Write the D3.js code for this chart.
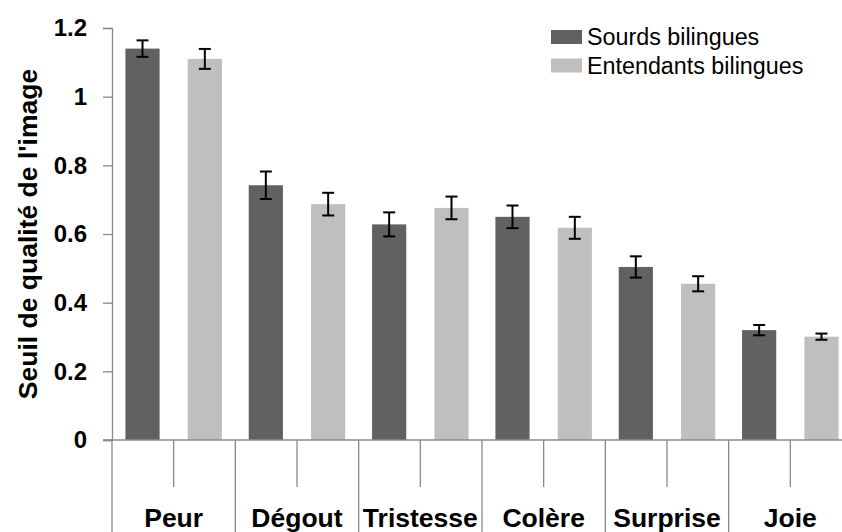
<!DOCTYPE html>
<html>
<head>
<meta charset="utf-8">
<script src="https://cdn.jsdelivr.net/npm/d3@7"></script>
<style>
  html, body { margin: 0; padding: 0; background: #fff; }
  svg { display: block; font-family: "Liberation Sans", Arial, sans-serif; }
</style>
</head>
<body>
<svg id="chart" width="842" height="532"></svg>
<script>
// Emotion categories and the two groups
const categories = ["Peur", "Dégout", "Tristesse", "Colère", "Surprise", "Joie"];
const seriesNames = ["Sourds bilingues", "Entendants bilingues"];
const seriesColors = ["#616161", "#bfbfbf"];

// Mean threshold per category, one array per group
const sourdsValues = [1.14, 0.742, 0.628, 0.650, 0.504, 0.320];
const entendantsValues = [1.110, 0.687, 0.676, 0.618, 0.455, 0.301];

// Error bar half-widths
const sourdsErrors = [0.024, 0.040, 0.035, 0.033, 0.031, 0.015];
const entendantsErrors = [0.029, 0.033, 0.033, 0.032, 0.022, 0.009];

const yTicks = [0, 0.2, 0.4, 0.6, 0.8, 1, 1.2];
const yTitle = "Seuil de qualité de l'image";

const values = [sourdsValues, entendantsValues];
const errors = [sourdsErrors, entendantsErrors];

const svg = d3.select("#chart");

const plotLeft = 112, plotTop = 28, plotBottom = 440;
const catStep = 123.33;
const plotRight = plotLeft + catStep * categories.length;

const x = d3.scaleBand().domain(categories).range([plotLeft, plotRight]).padding(0);
const xs = d3.scaleBand().domain(seriesNames).range([0, x.bandwidth()])
  .paddingInner(0.4516).paddingOuter(0.2151);
const y = d3.scaleLinear().domain([0, 1.2]).range([plotBottom, plotTop]);

const axisColor = "#8a8a8a";

// Bars
seriesNames.forEach((s, si) => {
  svg.append("g").selectAll("rect")
    .data(categories)
    .join("rect")
    .attr("x", c => x(c) + xs(s))
    .attr("y", (c, i) => y(values[si][i]))
    .attr("width", xs.bandwidth())
    .attr("height", (c, i) => y(0) - y(values[si][i]))
    .attr("fill", seriesColors[si]);
});

// Error bars
seriesNames.forEach((s, si) => {
  const g = svg.append("g").attr("stroke", "#000").attr("stroke-width", 2).attr("fill", "none");
  categories.forEach((c, i) => {
    const cx = x(c) + xs(s) + xs.bandwidth() / 2;
    const v = values[si][i], e = errors[si][i];
    const y1 = y(v + e), y2 = y(v - e);
    g.append("line").attr("x1", cx).attr("x2", cx).attr("y1", y1).attr("y2", y2);
    g.append("line").attr("x1", cx - 6).attr("x2", cx + 6).attr("y1", y1).attr("y2", y1);
    g.append("line").attr("x1", cx - 6).attr("x2", cx + 6).attr("y1", y2).attr("y2", y2);
  });
});

// Y axis
const yAxis = d3.axisLeft(y).tickValues(yTicks).tickSize(9).tickPadding(16)
  .tickFormat(d => String(d));
const yg = svg.append("g").attr("transform", `translate(${plotLeft},0)`).call(yAxis);
yg.select(".domain").attr("stroke", axisColor).attr("stroke-width", 1.3);
yg.selectAll(".tick line").attr("stroke", axisColor).attr("stroke-width", 1.3);
yg.selectAll(".tick text")
  .attr("font-size", 24).attr("font-weight", "bold").attr("fill", "#000")
  .attr("font-family", "'Liberation Sans', Arial, sans-serif");

// X axis baseline
svg.append("line")
  .attr("x1", plotLeft - 9).attr("x2", plotRight)
  .attr("y1", y(0)).attr("y2", y(0))
  .attr("stroke", axisColor).attr("stroke-width", 1.3);

// Category boundaries running to the bottom edge
const bounds = categories.map(c => x(c)).concat([plotRight]);
svg.append("g").selectAll("line")
  .data(bounds)
  .join("line")
  .attr("x1", d => d).attr("x2", d => d)
  .attr("y1", y(0)).attr("y2", 532)
  .attr("stroke", axisColor).attr("stroke-width", 1.3);

// Mid-category ticks
svg.append("g").selectAll("line")
  .data(categories)
  .join("line")
  .attr("x1", c => x(c) + x.bandwidth() / 2).attr("x2", c => x(c) + x.bandwidth() / 2)
  .attr("y1", y(0)).attr("y2", 487)
  .attr("stroke", axisColor).attr("stroke-width", 1.3);

// Category labels
svg.append("g").selectAll("text")
  .data(categories)
  .join("text")
  .attr("x", c => x(c) + x.bandwidth() / 2)
  .attr("y", 527)
  .attr("text-anchor", "middle")
  .attr("font-size", 26.5)
  .attr("font-weight", "bold")
  .text(c => c);

// Y axis title
svg.append("text")
  .attr("transform", `translate(37,${(plotTop + plotBottom) / 2}) rotate(-90)`)
  .attr("text-anchor", "middle")
  .attr("font-size", 26.5)
  .attr("font-weight", "bold")
  .text(yTitle);

// Legend
const legend = svg.append("g");
seriesNames.forEach((s, i) => {
  legend.append("rect")
    .attr("x", 551).attr("y", 30 + i * 28.5)
    .attr("width", 31).attr("height", 14)
    .attr("fill", seriesColors[i]);
  legend.append("text")
    .attr("x", 587).attr("y", 45 + i * 28.5)
    .attr("font-size", 23.3)
    .text(s);
});
</script>
</body>
</html>
